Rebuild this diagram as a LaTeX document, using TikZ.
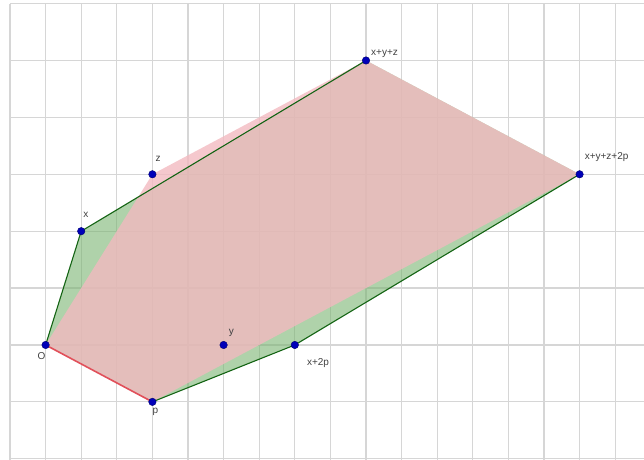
\documentclass[tikz,border=0pt]{standalone}
\usepackage{fontspec}
\setmainfont{Liberation Sans}
\usepackage{xcolor}
\usepackage{tikz}
\usetikzlibrary{positioning, calc}

\definecolor{gridgray}{RGB}{214,214,214}
\definecolor{hullgreen}{RGB}{122,180,113}
\definecolor{edgegreen}{RGB}{20,100,20}
\definecolor{hullpink}{RGB}{242,185,192}
\definecolor{edgered}{RGB}{225,80,90}
\definecolor{dotblue}{RGB}{0,0,185}

\begin{document}
\begin{tikzpicture}[x=35.6pt, y=56.9pt,
		dot/.style={circle, fill=dotblue, draw=dotblue!60!black, line width=0.4pt, inner sep=0pt, minimum size=7.5pt},
		lbl/.style={inner sep=0pt, text=black!75, font=\fontsize{10}{11}\selectfont},
		greenedge/.style={edgegreen, line width=1.1pt, line join=round}]
		\useasboundingbox (-1.281,-2.021) rectangle (16.809,6.063);
		
		% Grid
		\draw[gridgray, line width=1.2pt, xstep=35.6pt, ystep=56.9pt] (-1,-2.021) grid (16.809,6);
		
		% Points
		\coordinate (O) at (0,0);
		\coordinate (x) at (1,2);
		\coordinate (z) at (3,3);
		\coordinate (y) at (5,0);
		\coordinate (p) at (3,-1);
		\coordinate (x2p) at (7,0);
		\coordinate (xyz) at (9,5);
		\coordinate (xyz2p) at (15,3);
		
		% Green hull
		\fill[hullgreen, fill opacity=0.6] (O) -- (x) -- (xyz) -- (xyz2p) -- (x2p) -- (p) -- cycle;
		
		% Pink hull on top
		\fill[hullpink, fill opacity=0.79] (O) -- (z) -- (xyz) -- (xyz2p) -- (p) -- cycle;
		
		% Edges
		\draw[greenedge] (O) -- (x) -- (xyz);
		\draw[greenedge] (xyz2p) -- (x2p) -- (p);
		\draw[edgered, line width=1.6pt] (O) -- (p);
		
		% Dots and labels
		\foreach \pt in {O, x, z, y, p, x2p, xyz, xyz2p}
		\node[dot] (d\pt) at (\pt) {};
		\node[lbl, below=7pt of O, xshift=-4pt] (lO) {O};
		\node[lbl, above right=13pt and 2pt of x] (lx) {x};
		\node[lbl, above right=13pt and 3pt of z] (lz) {z};
		\node[lbl, above right=8pt and 5pt of y] (ly) {y};
		\node[lbl, below=6.5pt of p, xshift=3pt] (lp) {p};
		\node[lbl, below right=13pt and 12pt of x2p] (lx2p) {x+2p};
		\node[lbl, above right=3pt and 5pt of xyz] (lxyz) {x+y+z};
		\node[lbl, above right=13pt and 5pt of xyz2p] (lxyz2p) {x+y+z+2p};
	\end{tikzpicture}
\end{document}
